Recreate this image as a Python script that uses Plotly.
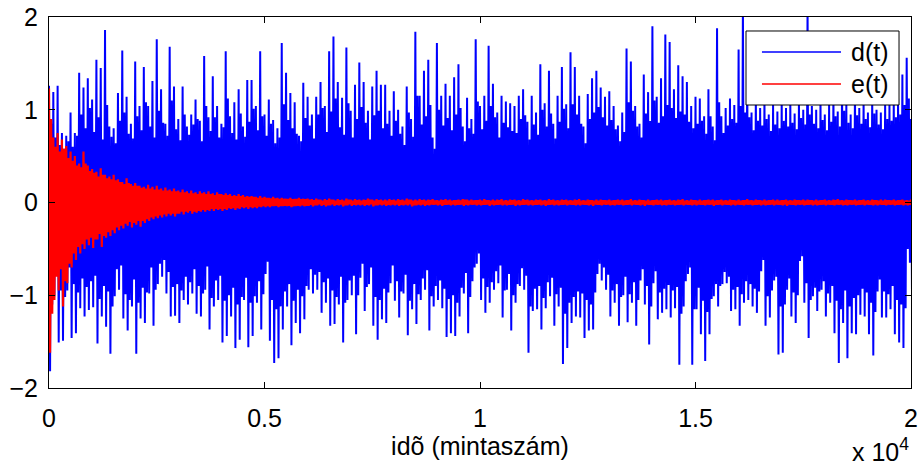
import plotly.graph_objects as go

# ---------------- data ----------------
# Samples 0 .. 20000, summarised in bins of 100 samples.  For every bin the
# picture gives the largest excursion up / down (hi, lo) and the next
# largest one (hi2, lo2) of each signal.
bin_size = 100
n_samples = 20000

# d(t): biggest upward excursion per bin
d_hi = [
    1.26, 1.19, 1.26, 0.75, 0.72, 0.97, 0.75, 1.40, 1.24, 1.34,
    1.11, 1.54, 1.45, 1.86, 0.82, 0.80, 1.18, 1.64, 1.14, 0.85,
    1.52, 1.04, 1.46, 1.04, 1.31, 1.76, 1.22, 0.85, 1.68, 1.25,
    0.90, 1.25, 0.82, 0.95, 1.11, 0.88, 1.58, 0.92, 1.36, 1.04,
    0.85, 1.63, 0.93, 1.08, 1.22, 0.82, 1.32, 1.32, 1.04, 1.63,
    0.95, 1.11, 0.89, 0.80, 1.72, 1.40, 1.18, 1.08, 0.72, 1.29,
    1.14, 0.95, 1.14, 1.30, 1.04, 1.63, 1.79, 1.30, 1.13, 1.67,
    0.99, 1.27, 1.51, 1.30, 0.99, 1.25, 1.42, 1.27, 1.27, 0.99,
    1.20, 1.00, 0.82, 1.25, 0.90, 1.84, 1.15, 1.42, 1.54, 0.70,
    1.72, 1.15, 1.28, 1.15, 1.35, 1.49, 0.82, 1.13, 0.90, 1.76,
    1.04, 1.15, 1.69, 1.28, 0.97, 1.15, 1.09, 1.07, 1.04, 1.15,
    1.22, 0.87, 1.15, 0.97, 1.49, 1.07, 1.42, 0.85, 1.15, 1.46,
    1.06, 1.62, 1.46, 1.15, 0.82, 1.17, 1.34, 1.42, 1.24, 1.14,
    1.20, 1.04, 0.83, 0.97, 1.66, 1.52, 1.04, 0.85, 1.38, 1.19,
    1.90, 1.14, 1.34, 1.81, 1.73, 1.22, 1.48, 1.36, 1.30, 1.04,
    1.14, 1.12, 0.93, 1.22, 0.82, 1.88, 0.93, 1.02, 1.12, 1.05,
    1.65, 2.15, 1.36, 0.97, 1.14, 1.02, 1.12, 0.95, 1.05, 0.98,
    1.10, 1.02, 1.08, 0.96, 1.10, 1.00, 2.15, 1.04, 1.00, 1.10,
    0.95, 1.05, 1.20, 0.98, 1.30, 1.05, 0.95, 1.25, 1.02, 1.10,
    0.97, 1.15, 1.00, 0.97, 1.08, 1.05, 1.09, 1.12, 1.38, 1.56,
    0.90,
]

# d(t): biggest downward excursion per bin
d_lo = [
    -1.82, -1.01, -1.51, -1.49, -0.95, -1.46, -1.41, -1.14, -1.23, -1.16,
    -1.13, -1.52, -1.23, -1.34, -1.63, -1.01, -0.94, -1.25, -1.38, -1.12,
    -1.63, -1.25, -1.30, -0.98, -1.33, -0.88, -0.80, -0.98, -1.23, -1.22,
    -1.30, -1.05, -1.10, -0.98, -1.20, -1.23, -0.94, -1.37, -1.12, -1.05,
    -1.51, -1.44, -1.23, -1.57, -1.48, -1.05, -1.56, -1.44, -1.08, -1.37,
    -0.77, -1.49, -1.73, -1.68, -1.37, -1.12, -1.54, -1.30, -1.41, -1.26,
    -0.94, -0.98, -0.94, -1.19, -1.08, -1.33, -1.31, -1.10, -1.51, -1.05,
    -1.00, -1.42, -0.81, -1.17, -0.88, -1.33, -1.48, -1.26, -1.30, -0.87,
    -1.06, -1.24, -0.98, -1.43, -1.15, -1.31, -1.05, -0.94, -1.38, -1.12,
    -1.05, -1.14, -1.45, -1.41, -1.44, -1.23, -0.98, -1.41, -0.85, -0.66,
    -1.05, -1.19, -1.08, -0.94, -0.87, -1.24, -0.94, -1.38, -1.08, -0.90,
    -0.94, -1.62, -1.17, -1.15, -1.37, -1.14, -1.01, -1.33, -1.12, -1.74,
    -1.57, -1.30, -1.23, -1.24, -1.46, -1.38, -1.37, -0.77, -0.84, -0.94,
    -1.23, -1.08, -1.33, -1.00, -1.29, -1.08, -1.33, -0.84, -1.10, -1.53,
    -0.87, -1.26, -1.19, -1.15, -1.24, -1.14, -1.75, -1.12, -0.77, -1.75,
    -1.15, -1.42, -1.71, -1.42, -1.01, -1.12, -0.88, -0.87, -1.17, -1.15,
    -1.33, -1.08, -1.05, -1.12, -1.19, -0.74, -1.33, -1.24, -0.84, -1.64,
    -1.62, -0.94, -1.23, -1.30, -0.63, -1.08, -1.46, -1.01, -1.17, -0.94,
    -1.23, -1.08, -1.41, -1.73, -1.30, -1.68, -1.41, -1.42, -1.21, -1.23,
    -1.42, -1.65, -0.96, -1.24, -1.24, -1.15, -1.42, -1.51, -1.57, -0.50,
    -1.15,
]

# d(t): second upward excursion per bin
d_hi2 = [
    0.85, 0.70, 0.62, 0.58, 0.66, 0.60, 0.72, 0.95, 0.80, 1.02,
    0.76, 0.92, 0.68, 1.05, 0.71, 0.64, 0.88, 0.97, 0.74, 0.69,
    0.93, 0.78, 1.08, 0.82, 0.70, 0.99, 0.86, 0.72, 1.10, 0.79,
    0.67, 0.95, 0.73, 0.84, 0.90, 0.66, 1.04, 0.77, 0.92, 0.70,
    0.81, 1.12, 0.75, 0.68, 0.96, 0.71, 0.87, 1.01, 0.78, 0.93,
    0.72, 0.85, 0.64, 0.70, 1.06, 0.89, 0.80, 0.74, 0.66, 0.91,
    0.83, 0.69, 0.95, 1.02, 0.76, 0.98, 1.12, 0.81, 0.73, 1.07,
    0.70, 0.90, 1.03, 0.86, 0.68, 0.94, 0.99, 0.80, 0.85, 0.72,
    0.88, 0.74, 0.62, 0.97, 0.71, 1.15, 0.84, 0.93, 1.05, 0.58,
    1.00, 0.83, 0.91, 0.78, 0.95, 1.02, 0.66, 0.80, 0.74, 1.09,
    0.79, 0.88, 1.04, 0.92, 0.70, 0.86, 0.81, 0.77, 0.75, 0.90,
    0.94, 0.68, 0.84, 0.73, 1.00, 0.82, 0.96, 0.69, 0.87, 1.01,
    0.80, 1.06, 0.95, 0.85, 0.64, 0.90, 0.97, 1.03, 0.92, 0.83,
    0.89, 0.79, 0.66, 0.76, 1.08, 0.99, 0.82, 0.70, 0.96, 0.88,
    1.10, 0.86, 0.93, 1.05, 1.02, 0.91, 0.98, 0.95, 0.87, 0.80,
    0.85, 0.88, 0.74, 0.93, 0.67, 1.08, 0.75, 0.83, 0.90, 0.86,
    1.04, 0.97, 0.92, 0.78, 0.88, 0.83, 0.90, 0.77, 0.84, 0.80,
    0.88, 0.82, 0.86, 0.79, 0.91, 0.84, 0.95, 0.85, 0.80, 0.89,
    0.78, 0.87, 0.93, 0.82, 0.99, 0.86, 0.80, 0.94, 0.85, 0.90,
    0.81, 0.96, 0.84, 0.79, 0.90, 0.88, 0.92, 0.95, 1.05, 1.12,
    0.85,
]

# d(t): second downward excursion per bin
d_lo2 = [
    -1.10, -0.78, -0.95, -1.02, -0.70, -0.88, -0.97, -0.82, -0.91, -0.85,
    -0.79, -1.04, -0.90, -0.96, -1.12, -0.72, -0.68, -0.99, -1.05, -0.83,
    -1.08, -0.92, -0.97, -0.70, -0.94, -0.66, -0.62, -0.75, -0.91, -0.88,
    -0.95, -0.80, -0.86, -0.72, -0.90, -0.98, -0.69, -1.03, -0.84, -0.79,
    -1.06, -1.00, -0.92, -1.10, -1.02, -0.81, -1.08, -1.01, -0.85, -0.99,
    -0.64, -1.05, -1.15, -1.12, -0.96, -0.88, -1.06, -0.94, -1.01, -0.90,
    -0.72, -0.78, -0.75, -0.86, -0.82, -0.95, -1.02, -0.80, -1.08, -0.84,
    -0.79, -1.00, -0.66, -0.91, -0.70, -1.02, -1.05, -0.93, -0.97, -0.68,
    -0.85, -0.96, -0.78, -1.06, -0.88, -0.99, -0.82, -0.73, -1.01, -0.90,
    -0.84, -0.93, -1.04, -1.00, -1.08, -0.92, -0.76, -1.02, -0.70, -0.55,
    -0.82, -0.91, -0.86, -0.74, -0.68, -0.95, -0.77, -1.00, -0.88, -0.71,
    -0.79, -1.12, -0.93, -0.90, -1.03, -0.86, -0.81, -0.99, -0.92, -1.20,
    -1.08, -1.02, -0.96, -0.98, -1.05, -1.10, -0.97, -0.66, -0.70, -0.78,
    -0.95, -0.88, -1.02, -0.80, -0.99, -0.86, -1.05, -0.72, -0.90, -1.12,
    -0.74, -0.97, -0.93, -0.89, -0.95, -0.91, -1.20, -0.85, -0.70, -1.15,
    -0.92, -1.06, -1.18, -1.04, -0.88, -0.90, -0.75, -0.80, -0.94, -0.91,
    -0.99, -0.85, -0.88, -0.93, -0.96, -0.62, -1.01, -0.95, -0.80, -1.12,
    -1.10, -0.82, -0.97, -1.00, -0.58, -0.87, -1.05, -0.92, -0.96, -0.85,
    -0.98, -0.90, -1.06, -1.15, -0.95, -1.12, -1.03, -1.00, -0.93, -0.97,
    -1.08, -1.18, -0.83, -0.96, -0.99, -0.90, -1.05, -1.10, -1.14, -0.65,
    -0.90,
]

# e(t): biggest upward excursion per bin
e_hi = [
    1.23, 0.70, 0.75, 0.68, 0.61, 0.55, 0.50, 0.42, 0.55, 0.40,
    0.36, 0.33, 0.37, 0.30, 0.28, 0.30, 0.25, 0.22, 0.26, 0.20,
    0.21, 0.18, 0.17, 0.19, 0.17, 0.18, 0.15, 0.16, 0.14, 0.15,
    0.13, 0.14, 0.12, 0.13, 0.11, 0.12, 0.11, 0.12, 0.10, 0.11,
    0.09, 0.10, 0.09, 0.08, 0.09, 0.08, 0.07, 0.07, 0.06, 0.07,
    0.06, 0.05, 0.06, 0.05, 0.05, 0.04, 0.05, 0.04, 0.05, 0.04,
    0.04, 0.035, 0.04, 0.03, 0.035, 0.04, 0.03, 0.035, 0.03, 0.04,
    0.03, 0.035, 0.03, 0.03, 0.04, 0.03, 0.035, 0.03, 0.03, 0.035,
    0.03, 0.035, 0.03, 0.04, 0.03, 0.03, 0.035, 0.03, 0.03, 0.035,
    0.025, 0.03, 0.035, 0.03, 0.025, 0.03, 0.035, 0.03, 0.03, 0.025,
    0.03, 0.035, 0.025, 0.03, 0.03, 0.035, 0.025, 0.03, 0.03, 0.025,
    0.035, 0.03, 0.025, 0.03, 0.03, 0.025, 0.035, 0.03, 0.025, 0.03,
    0.03, 0.025, 0.03, 0.035, 0.025, 0.03, 0.025, 0.03, 0.03, 0.025,
    0.03, 0.025, 0.03, 0.03, 0.025, 0.035, 0.025, 0.03, 0.025, 0.03,
    0.025, 0.03, 0.03, 0.025, 0.03, 0.025, 0.03, 0.035, 0.025, 0.03,
    0.025, 0.03, 0.025, 0.03, 0.03, 0.025, 0.03, 0.025, 0.03, 0.025,
    0.03, 0.025, 0.035, 0.025, 0.03, 0.025, 0.03, 0.025, 0.03, 0.03,
    0.025, 0.03, 0.025, 0.03, 0.025, 0.03, 0.03, 0.025, 0.03, 0.025,
    0.03, 0.025, 0.03, 0.035, 0.025, 0.03, 0.025, 0.03, 0.025, 0.03,
    0.025, 0.03, 0.025, 0.03, 0.03, 0.025, 0.03, 0.025, 0.03, 0.025,
    0.03,
]

# e(t): biggest downward excursion per bin
e_lo = [
    -1.62, -1.05, -0.95, -1.12, -0.87, -0.70, -0.62, -0.55, -0.50, -0.46,
    -0.49, -0.40, -0.48, -0.38, -0.36, -0.33, -0.30, -0.28, -0.25, -0.27,
    -0.24, -0.26, -0.22, -0.20, -0.18, -0.17, -0.16, -0.15, -0.14, -0.15,
    -0.12, -0.13, -0.11, -0.12, -0.11, -0.10, -0.10, -0.09, -0.09, -0.08,
    -0.09, -0.08, -0.07, -0.08, -0.07, -0.06, -0.07, -0.06, -0.06, -0.05,
    -0.05, -0.05, -0.04, -0.05, -0.04, -0.04, -0.05, -0.04, -0.04, -0.04,
    -0.035, -0.04, -0.03, -0.035, -0.04, -0.03, -0.035, -0.03, -0.04, -0.03,
    -0.035, -0.03, -0.03, -0.035, -0.03, -0.04, -0.03, -0.03, -0.035, -0.03,
    -0.03, -0.035, -0.03, -0.03, -0.04, -0.03, -0.03, -0.035, -0.03, -0.025,
    -0.03, -0.035, -0.025, -0.03, -0.03, -0.025, -0.035, -0.03, -0.025, -0.03,
    -0.03, -0.025, -0.035, -0.03, -0.025, -0.03, -0.03, -0.025, -0.035, -0.03,
    -0.025, -0.03, -0.03, -0.025, -0.03, -0.035, -0.025, -0.03, -0.03, -0.025,
    -0.03, -0.025, -0.03, -0.03, -0.025, -0.03, -0.035, -0.025, -0.03, -0.025,
    -0.03, -0.03, -0.025, -0.03, -0.025, -0.03, -0.025, -0.03, -0.035, -0.025,
    -0.03, -0.025, -0.03, -0.03, -0.025, -0.03, -0.025, -0.03, -0.025, -0.03,
    -0.03, -0.025, -0.03, -0.025, -0.035, -0.025, -0.03, -0.025, -0.03, -0.03,
    -0.025, -0.03, -0.025, -0.03, -0.025, -0.03, -0.03, -0.025, -0.03, -0.025,
    -0.03, -0.035, -0.025, -0.03, -0.025, -0.03, -0.025, -0.03, -0.03, -0.025,
    -0.03, -0.025, -0.03, -0.025, -0.03, -0.03, -0.025, -0.03, -0.025, -0.03,
    -0.025, -0.03, -0.03, -0.025, -0.03, -0.025, -0.03, -0.025, -0.03, -0.03,
    -0.025,
]

# e(t): second upward excursion per bin
e_hi2 = [
    0.90, 0.60, 0.55, 0.58, 0.48, 0.45, 0.40, 0.38, 0.42, 0.34,
    0.32, 0.28, 0.30, 0.26, 0.25, 0.24, 0.22, 0.20, 0.21, 0.18,
    0.18, 0.16, 0.15, 0.15, 0.14, 0.14, 0.13, 0.13, 0.12, 0.12,
    0.11, 0.11, 0.10, 0.10, 0.09, 0.10, 0.09, 0.09, 0.08, 0.09,
    0.08, 0.08, 0.07, 0.07, 0.07, 0.06, 0.06, 0.06, 0.05, 0.05,
    0.05, 0.045, 0.045, 0.04, 0.04, 0.04, 0.035, 0.04, 0.035, 0.035,
    0.03, 0.025, 0.03, 0.02, 0.025, 0.03, 0.02, 0.025, 0.02, 0.03,
    0.02, 0.025, 0.02, 0.025, 0.03, 0.02, 0.025, 0.02, 0.02, 0.025,
    0.02, 0.025, 0.02, 0.03, 0.02, 0.02, 0.025, 0.02, 0.025, 0.02,
    0.02, 0.025, 0.02, 0.02, 0.025, 0.02, 0.03, 0.02, 0.02, 0.025,
    0.02, 0.025, 0.02, 0.02, 0.025, 0.02, 0.02, 0.025, 0.02, 0.02,
    0.025, 0.02, 0.02, 0.025, 0.02, 0.02, 0.025, 0.02, 0.02, 0.025,
    0.02, 0.02, 0.025, 0.02, 0.02, 0.025, 0.02, 0.02, 0.025, 0.02,
    0.02, 0.025, 0.02, 0.02, 0.025, 0.02, 0.02, 0.025, 0.02, 0.02,
    0.025, 0.02, 0.02, 0.025, 0.02, 0.02, 0.025, 0.02, 0.02, 0.025,
    0.02, 0.02, 0.025, 0.02, 0.02, 0.025, 0.02, 0.02, 0.025, 0.02,
    0.02, 0.025, 0.02, 0.02, 0.025, 0.02, 0.02, 0.025, 0.02, 0.02,
    0.025, 0.02, 0.02, 0.025, 0.02, 0.02, 0.025, 0.02, 0.02, 0.025,
    0.02, 0.02, 0.025, 0.02, 0.02, 0.025, 0.02, 0.02, 0.025, 0.02,
    0.02, 0.025, 0.02, 0.02, 0.025, 0.02, 0.02, 0.025, 0.02, 0.02,
    0.02,
]

# e(t): second downward excursion per bin
e_lo2 = [
    -1.20, -0.80, -0.72, -0.85, -0.66, -0.55, -0.48, -0.45, -0.40, -0.38,
    -0.40, -0.34, -0.36, -0.32, -0.30, -0.27, -0.25, -0.23, -0.21, -0.22,
    -0.20, -0.20, -0.18, -0.16, -0.15, -0.14, -0.13, -0.12, -0.12, -0.12,
    -0.10, -0.10, -0.09, -0.10, -0.09, -0.08, -0.08, -0.07, -0.07, -0.07,
    -0.07, -0.06, -0.06, -0.06, -0.05, -0.05, -0.05, -0.05, -0.045, -0.04,
    -0.04, -0.04, -0.035, -0.04, -0.035, -0.035, -0.04, -0.035, -0.03, -0.035,
    -0.025, -0.03, -0.02, -0.025, -0.03, -0.02, -0.025, -0.02, -0.03, -0.02,
    -0.025, -0.02, -0.02, -0.025, -0.02, -0.03, -0.02, -0.02, -0.025, -0.02,
    -0.02, -0.025, -0.02, -0.02, -0.03, -0.02, -0.02, -0.025, -0.02, -0.02,
    -0.02, -0.025, -0.02, -0.02, -0.025, -0.02, -0.025, -0.02, -0.02, -0.02,
    -0.025, -0.02, -0.02, -0.025, -0.02, -0.02, -0.025, -0.02, -0.02, -0.025,
    -0.02, -0.02, -0.025, -0.02, -0.02, -0.025, -0.02, -0.02, -0.025, -0.02,
    -0.02, -0.025, -0.02, -0.02, -0.025, -0.02, -0.02, -0.025, -0.02, -0.02,
    -0.025, -0.02, -0.02, -0.025, -0.02, -0.02, -0.025, -0.02, -0.02, -0.025,
    -0.02, -0.02, -0.025, -0.02, -0.02, -0.025, -0.02, -0.02, -0.025, -0.02,
    -0.02, -0.025, -0.02, -0.02, -0.025, -0.02, -0.02, -0.025, -0.02, -0.02,
    -0.025, -0.02, -0.02, -0.025, -0.02, -0.02, -0.025, -0.02, -0.02, -0.025,
    -0.02, -0.02, -0.025, -0.02, -0.02, -0.025, -0.02, -0.02, -0.025, -0.02,
    -0.02, -0.025, -0.02, -0.02, -0.025, -0.02, -0.02, -0.025, -0.02, -0.02,
    -0.025, -0.02, -0.02, -0.025, -0.02, -0.02, -0.025, -0.02, -0.02, -0.025,
    -0.02,
]

x_tick_vals = [0, 5000, 10000, 15000, 20000]
x_tick_text = ["0", "0.5", "1", "1.5", "2"]
y_tick_vals = [-2, -1, 0, 1, 2]
series_names = ["d(t)", "e(t)"]
series_colors = ["#0000FF", "#FF0000"]


def zigzag(hi, lo, hi2, lo2):
    """Trace through each bin's excursions in turn, like a dense sampled signal."""
    xs, ys = [], []
    q = bin_size / 4
    for i in range(len(hi)):
        x0 = i * bin_size
        xs += [x0, x0 + q, x0 + 2 * q, x0 + 3 * q]
        ys += [hi[i], lo[i], hi2[i], lo2[i]]
    return xs, ys


dx, dy = zigzag(d_hi, d_lo, d_hi2, d_lo2)
ex, ey = zigzag(e_hi, e_lo, e_hi2, e_lo2)

FONT = "Liberation Sans, Arial, Helvetica, sans-serif"

fig = go.Figure()
fig.add_trace(go.Scatter(x=dx, y=dy, mode="lines", name=series_names[0],
                         showlegend=False,
                         line=dict(color=series_colors[0], width=2.0, simplify=False)))
fig.add_trace(go.Scatter(x=ex, y=ey, mode="lines", name=series_names[1],
                         showlegend=False,
                         line=dict(color=series_colors[1], width=2.2, simplify=False)))

axis_common = dict(showgrid=False, zeroline=False, showline=True, linecolor="black",
                   linewidth=1, mirror="ticks", ticks="inside", ticklen=6,
                   tickcolor="black", tickwidth=1, automargin=False,
                   tickfont=dict(family=FONT, size=25, color="black"))

fig.update_xaxes(range=[0, n_samples], tickvals=x_tick_vals, ticktext=x_tick_text,
                 ticklabelstandoff=8,
                 title=dict(text="idõ (mintaszám)", standoff=4,
                            font=dict(family=FONT, size=25, color="black")),
                 **axis_common)
fig.update_yaxes(range=[-2, 2], tickvals=y_tick_vals, ticklabelstandoff=5,
                 **axis_common)

fig.add_annotation(text="x 10<sup>4</sup>", xref="paper", yref="paper",
                   x=1.0, y=-0.168, xanchor="right", yanchor="middle",
                   showarrow=False, font=dict(family=FONT, size=25, color="black"))

# MATLAB-style legend box (white box, long line samples, labels)
LEG_BOX = dict(x0=0.8086, x1=0.9861, y0=0.7628, y1=0.9623)
LEG_LINE_X = (0.8271, 0.9188)
LEG_ROW_Y = [0.9057, 0.8194]
LEG_TEXT_X = 0.9281
fig.add_shape(type="rect", xref="paper", yref="paper", **LEG_BOX,
              fillcolor="white", line=dict(color="black", width=1), layer="above")
for name, color, yy in zip(series_names, series_colors, LEG_ROW_Y):
    fig.add_shape(type="line", xref="paper", yref="paper",
                  x0=LEG_LINE_X[0], x1=LEG_LINE_X[1], y0=yy, y1=yy,
                  line=dict(color=color, width=1.5), layer="above")
    fig.add_annotation(text=name, xref="paper", yref="paper", x=LEG_TEXT_X, y=yy,
                       xanchor="left", yanchor="middle", showarrow=False,
                       font=dict(family=FONT, size=25, color="black"))

fig.update_layout(
    width=918, height=465,
    margin=dict(l=49, r=7, t=17, b=77, autoexpand=False),
    paper_bgcolor="white", plot_bgcolor="white",
    font=dict(family=FONT, size=25, color="black"),
    showlegend=False,
)

fig.write_html("out.html")
